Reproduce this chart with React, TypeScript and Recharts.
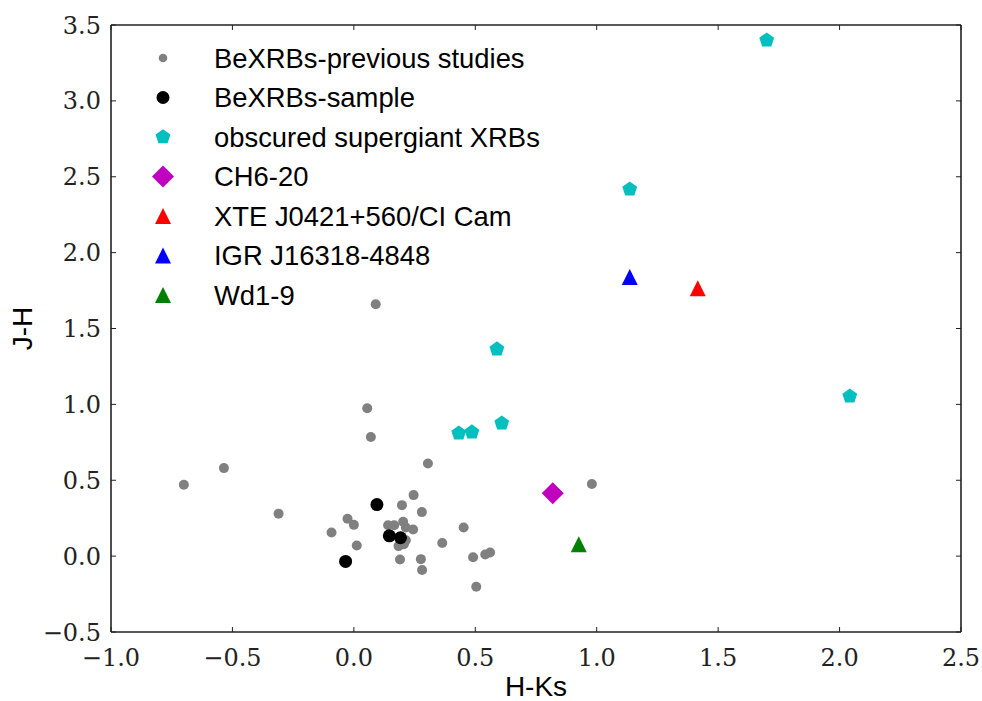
import { ScatterChart, Scatter, XAxis, YAxis, Legend } from "recharts";

// colour–colour diagram: J-H against H-Ks
const X_TICKS = [-1.0, -0.5, 0.0, 0.5, 1.0, 1.5, 2.0, 2.5];
const Y_TICKS = [-0.5, 0.0, 0.5, 1.0, 1.5, 2.0, 2.5, 3.0, 3.5];

// [H-Ks, J-H]
const PREV_STUDIES: [number, number][] = [
  [-0.7, 0.47], [-0.535, 0.58], [-0.31, 0.28], [0.09, 1.66], [0.055, 0.975],
  [0.07, 0.785], [0.305, 0.61], [0.98, 0.475], [-0.092, 0.156], [-0.026, 0.246],
  [0.0, 0.206], [0.012, 0.07], [0.246, 0.402], [0.198, 0.336], [0.28, 0.29],
  [0.141, 0.204], [0.166, 0.204], [0.203, 0.226], [0.214, 0.189], [0.244, 0.176],
  [0.184, 0.066], [0.206, 0.079], [0.214, 0.105], [0.19, -0.022], [0.276, -0.02],
  [0.281, -0.092], [0.364, 0.086], [0.452, 0.189], [0.491, -0.007], [0.541, 0.011],
  [0.561, 0.024], [0.504, -0.202],
];
const SAMPLE: [number, number][] = [
  [0.095, 0.34], [-0.034, -0.035], [0.146, 0.134], [0.192, 0.121],
];
const OBSCURED_SG: [number, number][] = [
  [1.7, 3.4], [1.136, 2.418], [0.589, 1.364], [0.432, 0.81], [0.486, 0.817],
  [0.609, 0.876], [2.042, 1.054],
];
const CH6_20: [number, number][] = [[0.819, 0.415]];
const XTE_J0421: [number, number][] = [[1.416, 1.766]];
const IGR_J16318: [number, number][] = [[1.136, 1.84]];
const WD1_9: [number, number][] = [[0.926, 0.079]];

type Kind = "dot" | "pentagon" | "diamond" | "triangle";

const SERIES: {
  key: string;
  name: string;
  data: [number, number][];
  kind: Kind;
  size: number;
  legendSize: number;
  color: string;
}[] = [
  { key: "prev", name: "BeXRBs-previous studies", data: PREV_STUDIES, kind: "dot", size: 5, legendSize: 4.3, color: "#808080" },
  { key: "sample", name: "BeXRBs-sample", data: SAMPLE, kind: "dot", size: 6.5, legendSize: 6.5, color: "#000000" },
  { key: "osg", name: "obscured supergiant XRBs", data: OBSCURED_SG, kind: "pentagon", size: 7.8, legendSize: 7.8, color: "#00BFBF" },
  { key: "ch6", name: "CH6-20", data: CH6_20, kind: "diamond", size: 11, legendSize: 11, color: "#BF00BF" },
  { key: "xte", name: "XTE J0421+560/CI Cam", data: XTE_J0421, kind: "triangle", size: 8, legendSize: 8, color: "#FF0000" },
  { key: "igr", name: "IGR J16318-4848", data: IGR_J16318, kind: "triangle", size: 8, legendSize: 8, color: "#0000FF" },
  { key: "wd1", name: "Wd1-9", data: WD1_9, kind: "triangle", size: 8, legendSize: 8, color: "#008000" },
];

const AXIS_COLOR = "#222";
const SERIF = "'DejaVu Serif', serif";
const SANS = "'Liberation Sans', Arial, sans-serif";

function Marker({ kind, cx, cy, s, color }: { kind: Kind; cx: number; cy: number; s: number; color: string }) {
  if (kind === "dot") return <circle cx={cx} cy={cy} r={s} fill={color} />;
  let pts: [number, number][] = [];
  if (kind === "pentagon") {
    for (let k = 0; k < 5; k++) {
      const a = ((-90 + 72 * k) * Math.PI) / 180;
      pts.push([cx + s * Math.cos(a), cy + s * Math.sin(a)]);
    }
  } else if (kind === "diamond") {
    pts = [[cx, cy - s], [cx + s, cy], [cx, cy + s], [cx - s, cy]];
  } else {
    pts = [[cx, cy - s], [cx + s, cy + s], [cx - s, cy + s]];
  }
  return <polygon points={pts.map((p) => p.join(",")).join(" ")} fill={color} />;
}

function LegendBox() {
  return (
    <svg width={440} height={280}>
      {SERIES.map((s, i) => {
        const cy = 20 + i * 39.5;
        return (
          <g key={s.key}>
            <Marker kind={s.kind} cx={23} cy={cy} s={s.legendSize} color={s.color} />
            <text x={74} y={cy + 9.8} fontFamily={SANS} fontSize={27.4} fill="#000">
              {s.name}
            </text>
          </g>
        );
      })}
    </svg>
  );
}

const fmtTick = (v: number) => (v < 0 ? "\u2212" : "") + Math.abs(v).toFixed(1);
const noLabel = () => "";

const tickLine = { stroke: AXIS_COLOR, strokeWidth: 1 };
const axisLine = { stroke: AXIS_COLOR, strokeWidth: 1.6 };
const tickText = { fontFamily: SERIF, fontSize: 24, fill: AXIS_COLOR };

export default function App() {
  return (
    <div style={{ width: 982, height: 701, background: "#fff" }}>
      <style>{"body{margin:0}"}</style>
      <ScatterChart width={982} height={701} margin={{ top: 24, right: 20, bottom: 0, left: 20 }}>
        <XAxis
          xAxisId="b"
          type="number"
          dataKey="x"
          domain={[-1, 2.5]}
          ticks={X_TICKS}
          allowDataOverflow
          height={69}
          tickFormatter={fmtTick}
          tick={tickText}
          tickSize={-5}
          tickMargin={22}
          tickLine={tickLine}
          axisLine={axisLine}
          label={{
            content: ({ viewBox }: any) => (
              <text
                x={viewBox.x + viewBox.width / 2}
                y={viewBox.y + 64}
                textAnchor="middle"
                fontFamily={SANS}
                fontSize={28}
                fill="#000"
              >
                H-Ks
              </text>
            ),
          }}
        />
        {/* mirrored axes close the box and carry inward ticks on top/right */}
        <XAxis
          xAxisId="t"
          orientation="top"
          type="number"
          dataKey="x"
          domain={[-1, 2.5]}
          ticks={X_TICKS}
          allowDataOverflow
          height={1}
          tickFormatter={noLabel}
          tickSize={-5}
          tickLine={tickLine}
          axisLine={axisLine}
        />
        <YAxis
          yAxisId="l"
          type="number"
          dataKey="y"
          domain={[-0.5, 3.5]}
          ticks={Y_TICKS}
          allowDataOverflow
          width={91}
          tickFormatter={fmtTick}
          tick={tickText}
          tickSize={-5}
          tickMargin={15}
          tickLine={tickLine}
          axisLine={axisLine}
          label={{
            content: ({ viewBox }: any) => {
              const cy = viewBox.y + viewBox.height / 2;
              return (
                <text
                  x={32}
                  y={cy}
                  transform={`rotate(-90 32 ${cy})`}
                  textAnchor="middle"
                  fontFamily={SANS}
                  fontSize={28}
                  fill="#000"
                >
                  J-H
                </text>
              );
            },
          }}
        />
        <YAxis
          yAxisId="r"
          orientation="right"
          type="number"
          dataKey="y"
          domain={[-0.5, 3.5]}
          ticks={Y_TICKS}
          allowDataOverflow
          width={1}
          tickFormatter={noLabel}
          tickSize={-5}
          tickLine={tickLine}
          axisLine={axisLine}
        />
        <Legend
          layout="vertical"
          align="center"
          verticalAlign="middle"
          wrapperStyle={{ left: 140, top: 38, width: 440, height: 280 }}
          content={() => <LegendBox />}
        />
        {/* invisible series so the mirrored axes get drawn */}
        <Scatter
          xAxisId="t"
          yAxisId="r"
          data={OBSCURED_SG.map(([x, y]) => ({ x, y }))}
          legendType="none"
          isAnimationActive={false}
          shape={() => <g />}
        />
        {SERIES.map((s) => (
          <Scatter
            key={s.key}
            name={s.name}
            xAxisId="b"
            yAxisId="l"
            data={s.data.map(([x, y]) => ({ x, y }))}
            isAnimationActive={false}
            shape={(p: any) => <Marker kind={s.kind} cx={p.cx} cy={p.cy} s={s.size} color={s.color} />}
          />
        ))}
      </ScatterChart>
    </div>
  );
}
